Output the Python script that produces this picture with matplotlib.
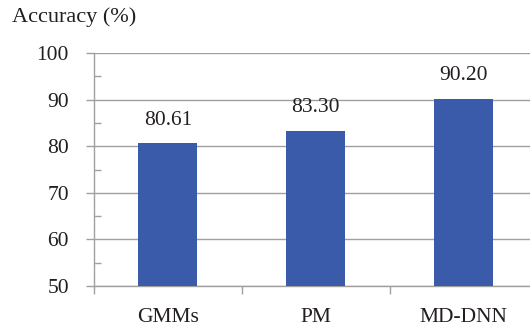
import matplotlib
matplotlib.use('Agg')
import matplotlib.pyplot as plt
from matplotlib.ticker import MultipleLocator, FixedLocator

plt.rcParams['font.family'] = ['Liberation Serif', 'DejaVu Serif']

# Accuracy of each method
methods = ['GMMs', 'PM', 'MD-DNN']
accuracy = [80.61, 83.30, 90.20]

bar_color = '#3A5BAA'
axis_color = '#A0A0A0'
text_color = '#231F20'

fig = plt.figure(figsize=(5.30, 3.28), dpi=100)
ax = fig.add_axes([94 / 530, 1 - 286 / 328, (537.5 - 94) / 530, (286 - 53) / 328])

x = range(len(methods))
bars = ax.bar(x, accuracy, width=0.40, color=bar_color, zorder=3)

for xi, v in zip(x, accuracy):
    ax.text(xi, v + 2.9, f'{v:.2f}', ha='center', va='bottom', fontsize=15.5, color=text_color)

ax.set_ylim(50, 100)
ax.set_xlim(-0.5, len(methods) - 0.5)

ax.yaxis.set_major_locator(MultipleLocator(10))
ax.yaxis.set_minor_locator(MultipleLocator(5))
ax.tick_params(axis='y', which='major', direction='out', length=6, width=1,
               color=axis_color, labelsize=15.5, labelcolor=text_color, pad=12)
ax.tick_params(axis='y', which='minor', direction='in', length=5, width=1, color=axis_color)

ax.set_xticks(list(x))
ax.set_xticklabels(methods)
ax.xaxis.set_minor_locator(FixedLocator([i - 0.5 for i in range(len(methods) + 1)]))
ax.tick_params(axis='x', which='major', length=0, labelsize=15.5, labelcolor=text_color, pad=16)
ax.tick_params(axis='x', which='minor', direction='out', length=6, width=1, color=axis_color)

ax.grid(axis='y', which='major', color=axis_color, linewidth=1, zorder=0)
for side in ['top', 'right']:
    ax.spines[side].set_visible(False)
for side in ['left', 'bottom']:
    ax.spines[side].set_color(axis_color)
    ax.spines[side].set_linewidth(1)

fig.text(12 / 530, 1 - 17 / 328, 'Accuracy (%)', ha='left', va='center', fontsize=16, color=text_color)

fig.savefig('out.png', dpi=100)
